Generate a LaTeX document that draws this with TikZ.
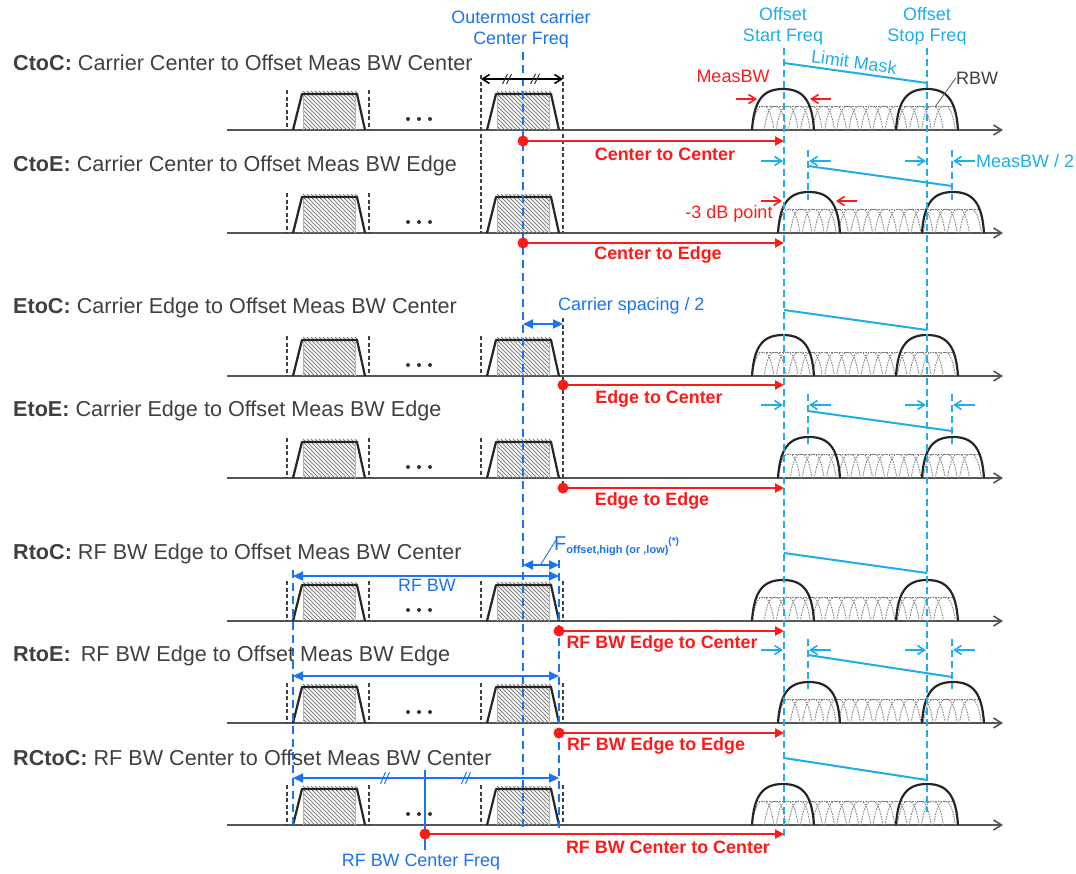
\documentclass[tikz,border=0pt]{standalone}
\usepackage{fontspec}
\setmainfont{Liberation Sans}
\usetikzlibrary{arrows.meta}
\definecolor{txtgray}{HTML}{404040}
\definecolor{axisgray}{HTML}{555555}
\definecolor{hatchgray}{HTML}{808080}
\definecolor{cred}{HTML}{FF1A1A}
\definecolor{cblue}{HTML}{1A73F0}
\definecolor{ccyan}{HTML}{1FAEEA}
\tikzset{
  axisline/.style={draw=axisgray,line width=1.8pt,-{Straight Barb[length=8pt,width=10pt,line width=1.6pt]}},
  blackdash/.style={draw=txtgray,line width=1.2pt,dash pattern=on 4pt off 2.5pt},
  carrieredge/.style={draw=black!85,line width=2.2pt,line join=round},
  envelope/.style={draw=black!85,line width=2.2pt},
  bell/.style={draw=black!50,line width=0.9pt,dash pattern=on 1.5pt off 1.1pt},
  centerdash/.style={draw=cblue,line width=1.8pt,dash pattern=on 8pt off 5pt},
  cyandash/.style={draw=ccyan,line width=1.8pt,dash pattern=on 7pt off 4pt},
  maskline/.style={draw=ccyan,line width=2pt},
  cyanarrow/.style={draw=ccyan,line width=1.6pt,-{Straight Barb[length=7pt,width=9pt,line width=1.6pt]}},
  redshort/.style={draw=cred,line width=1.6pt,-{Straight Barb[length=7pt,width=9pt,line width=1.6pt]}},
  redarrow/.style={draw=cred,line width=2.2pt,-{Triangle[length=9pt,width=9pt]}},
  reddot/.style={circle,fill=cred,inner sep=0pt,minimum size=11pt},
  bluearrow/.style={draw=cblue,line width=2pt,{Triangle[length=10pt,width=9pt]}-{Triangle[length=10pt,width=9pt]}},
  blackarrow/.style={draw=black,line width=1.8pt,{Straight Barb[length=7pt,width=9pt,line width=1.6pt]}-{Straight Barb[length=7pt,width=9pt,line width=1.6pt]}},
  rowlabel/.style={anchor=west,text=txtgray,font=\fontsize{21.6}{25}\selectfont,inner sep=0pt},
  redlabel/.style={text=cred,font=\fontsize{17.9}{21}\selectfont\bfseries,inner sep=0pt},
  redplain/.style={text=cred,font=\fontsize{18}{21}\selectfont,inner sep=0pt},
  cyanlabel/.style={text=ccyan,font=\fontsize{18}{21}\selectfont,inner sep=0pt},
  bluelabel/.style={text=cblue,font=\fontsize{17.9}{21}\selectfont,inner sep=0pt},
}
\newcommand{\CarrierBlock}[2]{%
  \begin{scope}[shift={(#1,#2)}]
    \begin{scope}
      \clip (16,-35) rectangle (68,0);
      \foreach \k in {-40,-36,...,70} {\draw[hatchgray,line width=0.9pt] (\k,-36) -- (\k+36,0);}
    \end{scope}
    \foreach \k in {16,20,...,68} {\draw[hatchgray,line width=0.8pt] (\k,-39) -- (\k+3,-36);}
    \draw[carrieredge] (6,0) -- (15,-36) -- (70,-36) -- (78,0);
    \draw[hatchgray!60!white,line width=0.6pt] (16,-35) -- (16,0) (68,-35) -- (68,0);
  \end{scope}}
\newcommand{\Dots}[1]{%
  \foreach \k in {0,11,22} {\fill[black!80] (408+\k,#1-11) circle (2pt);}}
\newcommand{\RowCarriers}[1]{\CarrierBlock{287}{#1}\CarrierBlock{481}{#1}\Dots{#1}}
\newcommand{\Env}[2]{% x-left, base
  \draw[envelope,shift={(#1,#2)}] (0,0) .. controls (2,-30) and (11,-41) .. (31,-41) .. controls (51,-41) and (60,-30) .. (62,0);}
\newcommand{\Bells}[2]{% x-left, base
  \begin{scope}[shift={(#1,#2)}]
    \draw[bell] (4,-24) -- (204,-24);
    \foreach \k in {0,12.1,...,182} {%
      \draw[bell] (\k,0) .. controls (\k+3,-18) and (\k+6,-24) .. (\k+11,-24) .. controls (\k+16,-24) and (\k+19,-18) .. (\k+22,0);}
  \end{scope}}
\newcommand{\Spectrum}[2]{\Bells{#1}{#2}\Env{#1}{#2}\Env{#1+144}{#2}}
\newcommand{\RedConn}[6]{% name, x, y, label-x, label-y, text
  \node[reddot] (#1s) at (#2,#3) {};
  \coordinate (#1e) at (784,#3);
  \draw[redarrow] (#1s.center) -- (#1e);
  \node[redlabel] (#1l) at (#4,#5) {#6};}
\newcommand{\CyanArrows}[1]{%
  \draw[cyanarrow] (761,#1) -- (783,#1);
  \draw[cyanarrow] (831,#1) -- (809,#1);
  \draw[cyanarrow] (905,#1) -- (926,#1);
  \draw[cyanarrow] (975,#1) -- (953,#1);
  \draw[cyandash] (808,#1-11) -- (808,#1+39);
  \draw[cyandash] (952,#1-11) -- (952,#1+39);}
\newcommand{\RowLabel}[4]{% name,x-bold,y,bold,rest
  \node[rowlabel] (#1) at (#2,#3) {\textbf{#4}\hspace{6pt}};}
\newcommand{\RowText}[5]{%
  \node[rowlabel] (#1) at (#2,#3) {\textbf{#4}\hspace{6pt}#5};}
\begin{document}
\begin{tikzpicture}[x=1pt,y=-1pt]
\useasboundingbox (0,0) rectangle (1076,873);
\fill[white] (0,0) rectangle (1076,873);

% axes
\foreach \n/\y in {a/130,b/233,c/376,d/478,e/621,f/723,g/825} {
  \coordinate (\n1) at (227,\y); \coordinate (\n2) at (1003,\y);
  \draw[axisline] (\n1) -- (\n2);
}
% carriers
\foreach \y in {130,233,376,478,621,723,825} {\RowCarriers{\y}}
% short dashes
\foreach \x/\y in {287/130,369/130,287/233,369/233,
                   287/376,369/376,481/376,287/478,369/478,481/478,
                   287/621,369/621,481/621,563/621,
                   287/723,369/723,481/723,563/723,
                   287/825,369/825,481/825,563/825} {
  \draw[blackdash] (\x,\y-40) -- (\x,\y);
}
% spectra
\Spectrum{752}{130}
\Spectrum{778}{233}
\Spectrum{752}{376}
\Spectrum{778}{478}
\Spectrum{752}{621}
\Spectrum{778}{723}
\Spectrum{752}{825}

% long black dashes
\draw[blackdash] (481,75) -- (481,233);
\draw[blackdash] (563,75) -- (563,233);
\draw[blackdash] (563,318) -- (563,488);

% vertical guide lines
\draw[centerdash] (523,52) -- (523,830);
\draw[cyandash] (784,48) -- (784,840);
\draw[cyandash] (927,48) -- (927,812);
\draw[centerdash] (293,570) -- (293,828);
\draw[centerdash] (559,560) -- (559,828);

% limit masks
\draw[maskline] (784,63) -- (927,83);
\draw[maskline] (808,166) -- (952,186);
\draw[maskline] (784,310) -- (927,330);
\draw[maskline] (808,411) -- (952,431);
\draw[maskline] (784,553) -- (927,573);
\draw[maskline] (808,655) -- (952,677);
\draw[maskline] (784,758) -- (927,780);

% cyan arrows
\CyanArrows{161}
\CyanArrows{405}
\CyanArrows{650}

% red short arrows
\draw[redshort] (736,99) -- (757,99);
\draw[redshort] (831,99) -- (810,99);
\draw[redshort] (761,201) -- (782,201);
\draw[redshort] (857,201) -- (836,201);

% RBW leader
\node[text=txtgray,font=\fontsize{18}{21}\selectfont,inner sep=0pt] (rbw) at (977,78) {RBW};
\coordinate (rbwt) at (935,107);
\draw[black!60,line width=0.9pt] (rbw.west) -- (rbwt);

% black top arrow
\coordinate (ta) at (481,79); \coordinate (tb) at (563,79);
\draw[blackarrow] (ta) -- (tb);
\foreach \x in {505,509,533,537} {\draw[black!80,line width=1pt] (\x-2.5,84) -- (\x+2.5,74);}

% blue arrows
\coordinate (cs1) at (523,324); \coordinate (cs2) at (563,324);
\draw[bluearrow] (cs1) -- (cs2);
\coordinate (fo1) at (523,565); \coordinate (fo2) at (559,565);
\draw[bluearrow] (fo1) -- (fo2);
\coordinate (rf1a) at (293,576); \coordinate (rf1b) at (559,576);
\draw[bluearrow] (rf1a) -- (rf1b);
\coordinate (rf2a) at (293,676); \coordinate (rf2b) at (559,676);
\draw[bluearrow] (rf2a) -- (rf2b);
\coordinate (rf3a) at (293,778); \coordinate (rf3b) at (559,778);
\draw[bluearrow] (rf3a) -- (rf3b);
\foreach \x in {383,387,464,468} {\draw[cblue,line width=1pt] (\x-2.5,784) -- (\x+2.5,772);}
\draw[cblue,line width=2pt] (425,770) -- (425,850);
\draw[cblue,line width=0.9pt] (556,540) -- (541,564);

% red connectors
\RedConn{r1}{523}{141}{665}{154}{Center to Center}
\RedConn{r2}{523}{243}{658}{255}{Center to Edge}
\RedConn{r3}{563}{385}{659}{399}{Edge to Center}
\RedConn{r4}{563}{488}{652}{501}{Edge to Edge}
\RedConn{r5}{559}{631}{662}{644}{RF BW Edge to Center}
\RedConn{r6}{559}{733}{656}{746}{RF BW Edge to Edge}
\RedConn{r7}{425}{834}{668}{847}{RF BW Center to Center}

% row labels
\RowText{l1}{13}{63}{CtoC:}{Carrier Center to Offset Meas BW Center}
\RowText{l2}{13}{166}{CtoE:}{Carrier Center to Offset Meas BW Edge}
\RowText{l3}{13}{308}{EtoC:}{Carrier Edge to Offset Meas BW Center}
\RowText{l4}{13}{411}{EtoE:}{Carrier Edge to Offset Meas BW Edge}
\RowText{l5}{13}{554}{RtoC:}{RF BW Edge to Offset Meas BW Center}
\RowText{l6}{13}{656}{RtoE:}{\hspace{4pt}RF BW Edge to Offset Meas BW Edge}
\RowText{l7}{13}{758}{RCtoC:}{RF BW Center to Offset Meas BW Center}

% top labels
\node[bluelabel,align=center] (outer) at (521,29) {Outermost carrier\\Center Freq};
\node[cyanlabel,align=center] (ostart) at (783,26) {Offset\\Start Freq};
\node[cyanlabel,align=center] (ostop) at (927,26) {Offset\\Stop Freq};
\node[cyanlabel,rotate=-8] (lm) at (854,62) {Limit Mask};
\node[cyanlabel,anchor=west] (mb2) at (976,161) {MeasBW / 2};
\node[redplain] (mb) at (733,76) {MeasBW};
\node[redplain] (db) at (729,214) {-3 dB point};
\node[bluelabel,anchor=west] (cs) at (558,306) {Carrier spacing / 2};
\node[bluelabel] (rfbw) at (427,585) {RF BW};
\node[bluelabel] (rfc) at (421,862) {RF BW Center Freq};
\node[bluelabel,anchor=west,font=\fontsize{20}{22}\selectfont] (fo) at (554,546) {F\raisebox{-3pt}{\fontsize{11}{12}\selectfont\bfseries offset,high (or ,low)}\raisebox{6pt}{\fontsize{10}{10}\selectfont\bfseries (*)}};
\end{tikzpicture}
\end{document}
